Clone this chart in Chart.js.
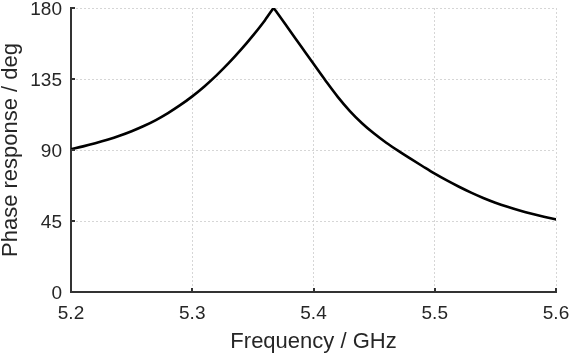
<!DOCTYPE html>
<html>
<head>
<meta charset="utf-8">
<script src="https://cdn.jsdelivr.net/npm/chart.js@4/dist/chart.umd.min.js"></script>
<style>
  html, body { margin: 0; padding: 0; background: #ffffff; }
  #wrap { width: 572px; height: 356px; }
</style>
</head>
<body>
<div id="wrap"><canvas id="c" width="572" height="356"></canvas></div>
<script>
// Frequency samples (GHz) and phase response (deg)
// rising branch (up to the resonance peak)
const freqRising = [
  5.20, 5.21, 5.22, 5.23, 5.24, 5.25, 5.26, 5.27, 5.28, 5.29,
  5.30, 5.31, 5.32, 5.33, 5.34, 5.35, 5.36, 5.367
];
const phaseRising = [
  90.5, 92.3, 94.3, 96.5, 99.0, 101.9, 105.2, 109.0, 113.4, 118.4,
  124.0, 130.3, 137.3, 145.0, 153.4, 162.5, 172.3, 180.0
];
// falling branch (from the resonance peak)
const freqFalling = [
  5.367, 5.37, 5.38, 5.39, 5.40, 5.41, 5.42, 5.43, 5.44, 5.45, 5.46,
  5.47, 5.48, 5.49, 5.50, 5.51, 5.52, 5.53, 5.54, 5.55, 5.56,
  5.57, 5.58, 5.59, 5.60
];
const phaseFalling = [
  180.0, 177.0, 166.2, 155.4, 144.6, 133.9, 123.7, 114.7, 107.0, 100.4, 94.6,
  89.4, 84.5, 79.7, 75.0, 70.7, 66.7, 63.0, 59.6, 56.6, 54.0,
  51.7, 49.6, 47.7, 46.0
];
const xTicks = [5.2, 5.3, 5.4, 5.5, 5.6];
const yTicks = [0, 45, 90, 135, 180];
const xTitle = 'Frequency / GHz';
const yTitle = 'Phase response / deg';

const FONT = "'Liberation Sans', Arial, Helvetica, sans-serif";
const TEXT = '#262626';
const AXIS = '#333333';
const GRID = '#d6d6d6';

const toPoints = (xs, ys) => xs.map((f, i) => ({ x: f, y: ys[i] }));

// inward tick marks, positioned through the scales
const innerTicks = {
  id: 'innerTicks',
  afterDraw(chart) {
    const ctx = chart.ctx;
    const xs = chart.scales.x, ys = chart.scales.y;
    const area = chart.chartArea;
    ctx.save();
    ctx.strokeStyle = AXIS;
    ctx.lineWidth = 2;
    xTicks.forEach(v => {
      const px = Math.round(xs.getPixelForValue(v));
      ctx.beginPath();
      ctx.moveTo(px, area.bottom);
      ctx.lineTo(px, area.bottom - 4);
      ctx.stroke();
    });
    yTicks.forEach(v => {
      const py = Math.round(ys.getPixelForValue(v));
      ctx.beginPath();
      ctx.moveTo(area.left, py);
      ctx.lineTo(area.left + 4, py);
      ctx.stroke();
    });
    ctx.restore();
  }
};

const lineStyle = {
  borderColor: '#000000',
  borderWidth: 2.6,
  pointRadius: 0,
  cubicInterpolationMode: 'monotone',
  borderCapStyle: 'round',
  borderJoinStyle: 'miter',
  fill: false
};

new Chart(document.getElementById('c'), {
  type: 'line',
  data: {
    datasets: [
      Object.assign({ data: toPoints(freqRising, phaseRising) }, lineStyle),
      Object.assign({ data: toPoints(freqFalling, phaseFalling) }, lineStyle)
    ]
  },
  options: {
    responsive: false,
    animation: false,
    devicePixelRatio: 1,
    layout: { padding: { top: 8, right: 16, left: 0, bottom: 0 } },
    plugins: { legend: { display: false }, tooltip: { enabled: false } },
    scales: {
      x: {
        type: 'linear',
        min: 5.2, max: 5.6,
        z: 1,
        afterBuildTicks(scale) { scale.ticks = xTicks.map(v => ({ value: v })); },
        afterFit(scale) { scale.height = 64; scale.paddingLeft = 0; scale.paddingRight = 0; },
        grid: { color: GRID, lineWidth: 1, drawTicks: false },
        border: { display: true, color: AXIS, width: 2, dash: [2, 2] },
        ticks: {
          color: TEXT, padding: 10, maxRotation: 0,
          font: { family: FONT, size: 19 },
          callback: (v) => v.toFixed(1)
        },
        title: {
          display: true, text: xTitle, color: TEXT,
          font: { family: FONT, size: 22, lineHeight: 1 },
          padding: { top: 0, bottom: 3 }
        }
      },
      y: {
        type: 'linear',
        min: 0, max: 180,
        z: 1,
        afterBuildTicks(scale) { scale.ticks = yTicks.map(v => ({ value: v })); },
        afterFit(scale) { scale.width = 71; scale.paddingTop = 0; scale.paddingBottom = 0; },
        grid: { color: GRID, lineWidth: 1, drawTicks: false },
        border: { display: true, color: AXIS, width: 2, dash: [2, 2] },
        ticks: {
          color: TEXT, padding: 9, labelOffset: 1.5,
          font: { family: FONT, size: 19 },
          callback: (v) => String(v)
        },
        title: {
          display: true, text: yTitle, color: TEXT,
          font: { family: FONT, size: 22, lineHeight: 1 },
          padding: { top: 0, bottom: 0 }
        }
      }
    }
  },
  plugins: [innerTicks]
});
</script>
</body>
</html>
